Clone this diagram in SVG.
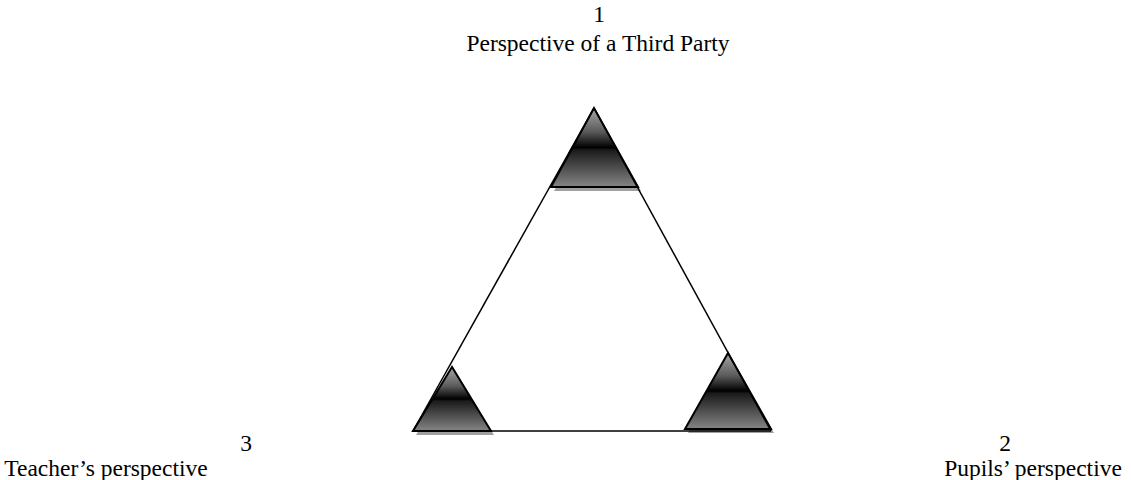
<svg xmlns="http://www.w3.org/2000/svg" width="1131" height="480" viewBox="0 0 1131 480">
<defs>
<linearGradient id="g" x1="0" y1="0" x2="0" y2="1">
<stop offset="0" stop-color="#a8a8a8"/>
<stop offset="0.3" stop-color="#5a5a5a"/>
<stop offset="0.5" stop-color="#000"/>
<stop offset="0.53" stop-color="#1a1a1a"/>
<stop offset="1" stop-color="#858585"/>
</linearGradient>
</defs>
<style>
.lbl{font-family:"Liberation Serif","Times New Roman",serif;font-size:23.5px;fill:#000;text-anchor:middle}
.tri{fill:url(#g);stroke:#000;stroke-width:2;stroke-linejoin:miter}
.sh{fill:#a0a0a0;stroke:none}
.ln{stroke:#000;stroke-width:1.5;fill:none}
</style>
<rect width="1131" height="480" fill="#fff"/>
<g id="node-1">
<polygon class="sh" points="597,112 554,191 641,191"/>
<polygon class="tri" points="594,108 551,187 638,187"/>
<text class="lbl" x="599" y="22">1</text>
<text class="lbl" x="598" y="51">Perspective of a Third Party</text>
</g>
<g id="node-3">
<polygon class="sh" points="455,371 416,435 494,435"/>
<polygon class="tri" points="452,367 413,431 491,431"/>
<text class="lbl" x="246" y="451">3</text>
<text class="lbl" x="106" y="476">Teacher’s perspective</text>
</g>
<g id="node-2">
<polygon class="sh" points="731,357 688,433 774,433"/>
<polygon class="tri" points="728,353 685,429 771,429"/>
<text class="lbl" x="1005" y="451">2</text>
<text class="lbl" x="1033" y="476">Pupils’ perspective</text>
</g>
<g id="connectors">
<line class="ln" x1="594" y1="108" x2="413" y2="431"/>
<line class="ln" x1="413" y1="431" x2="771" y2="431"/>
<line class="ln" x1="771" y1="431" x2="594" y2="108"/>
</g>
</svg>
